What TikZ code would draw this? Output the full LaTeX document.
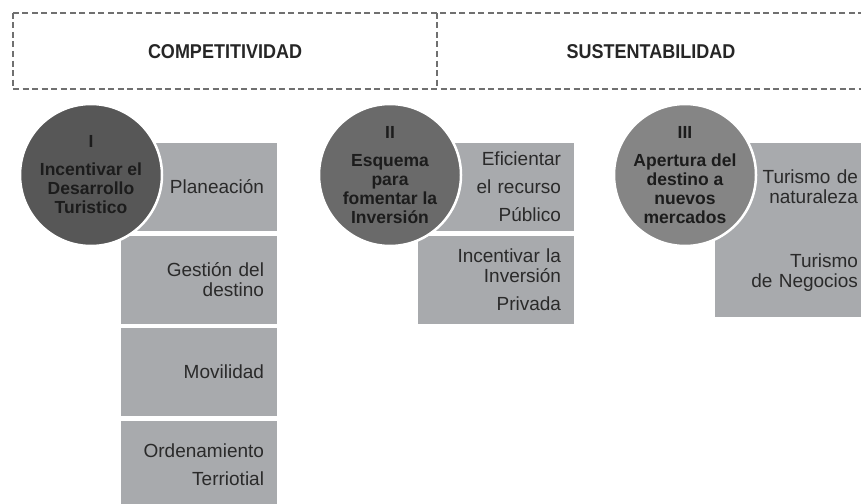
\documentclass[tikz,border=0pt]{standalone}
\usepackage{fontspec}
\setmainfont{Liberation Sans}
\definecolor{boxgray}{HTML}{A8AAAD}
\definecolor{boxtext}{HTML}{2A2A2A}
\definecolor{circA}{HTML}{575757}
\definecolor{circB}{HTML}{6A6A6A}
\definecolor{circC}{HTML}{858585}
\definecolor{circtext}{HTML}{1C1C1C}
\definecolor{dashgray}{HTML}{707070}
\tikzset{
  itembox/.style={rectangle, fill=boxgray, draw=none, minimum width=156pt, minimum height=88pt,
    inner xsep=13pt, inner ysep=0pt, text width=130pt, align=right, text=boxtext,
    font=\fontsize{19}{20}\selectfont},
  goalcircle/.style={circle, draw=white, line width=2.5pt, minimum size=142pt, inner sep=0pt,
    align=center, text=circtext, font=\bfseries\fontsize{17.5}{19}\selectfont},
  frame/.style={draw=dashgray, line width=1.2pt, dash pattern=on 6pt off 3.5pt},
  headtext/.style={font=\bfseries\fontsize{20}{22}\selectfont, text=black!85}
}
\begin{document}
\begin{tikzpicture}[x=1pt,y=-1pt]
\useasboundingbox (0,0) rectangle (861,503);
% header frame
\draw[frame] (13,13) rectangle (866,89);
\draw[frame] (437,13) -- (437,89);
\node[headtext] (comp) at (225,52) {\scalebox{0.9}[1]{COMPETITIVIDAD}};
\node[headtext] (sust) at (651,52) {\scalebox{0.9}[1]{SUSTENTABILIDAD}};
% column 1 boxes
\node[itembox] (plan) at (199,187) {Planeación};
\node[itembox] (gest) at (199,279.5) {Gestión del\\destino};
\node[itembox] (movi) at (199,372) {Movilidad};
\node[itembox] (orde) at (199,464.5) {Ordenamiento\\[8pt]Terriotial};
% column 2 boxes
\node[itembox] (efic) at (496,187) {Eficientar\\[8pt]el recurso\\[8pt]Público};
\node[itembox] (priv) at (496,279.5) {Incentivar la\\Inversión\\[8pt]Privada};
% column 3 boxes
\node[itembox] (natu) at (793,187) {Turismo de\\naturaleza};
\node[itembox, yshift=7pt] (nego) at (793,279.5) {Turismo\\de Negocios};
% circles
\node[goalcircle, fill=circA] (c1) at (91,175) {I\\[9pt]Incentivar el\\Desarrollo\\Turistico};
\node[goalcircle, fill=circB] (c2) at (390,175) {II\\[9pt]Esquema\\para\\fomentar la\\Inversión};
\node[goalcircle, fill=circC] (c3) at (685,175) {III\\[9pt]Apertura del\\destino a\\nuevos\\mercados};
\end{tikzpicture}
\end{document}
